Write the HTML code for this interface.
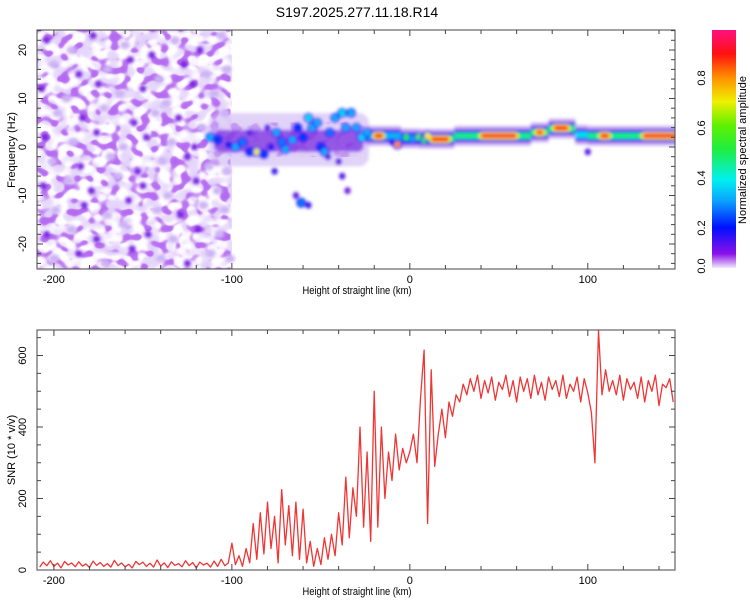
<!DOCTYPE html>
<html><head><meta charset="utf-8"><style>
body{margin:0;background:#fff;width:750px;height:600px;overflow:hidden}
svg{display:block;font-family:"Liberation Sans",sans-serif}
</style></head><body>
<svg id="chart" width="750" height="600" viewBox="0 0 750 600">
<defs>
<filter id="blur" x="-50%" y="-50%" width="200%" height="200%"><feGaussianBlur stdDeviation="1.5"/></filter>
<filter id="noiseLight" x="0" y="0" width="100%" height="100%">
<feTurbulence type="fractalNoise" baseFrequency="0.075 0.09" numOctaves="1" seed="4" result="t"/>
<feColorMatrix in="t" type="matrix" values="0 0 0 0 0.78  0 0 0 0 0.67  0 0 0 0 0.96  1.6 0 0 0 -0.35"/>
<feComponentTransfer><feFuncA type="table" tableValues="0 0 0.05 0.8 1 1"/></feComponentTransfer>
</filter>
<filter id="noiseDark" x="0" y="0" width="100%" height="100%">
<feTurbulence type="fractalNoise" baseFrequency="0.1 0.12" numOctaves="1" seed="11" result="t"/>
<feColorMatrix in="t" type="matrix" values="0 0 0 0 0.46  0 0 0 0 0.14  0 0 0 0 0.88  1.8 0 0 0 -0.55"/>
<feComponentTransfer><feFuncA type="table" tableValues="0 0 0.1 0.9 1 1"/></feComponentTransfer>
</filter>
<clipPath id="clipTop"><rect x="37" y="30" width="638" height="239"/></clipPath>
<clipPath id="clipBot"><rect x="37" y="330" width="638" height="240"/></clipPath>
<linearGradient id="cbar" x1="0" y1="1" x2="0" y2="0">
<stop offset="0" stop-color="#f2eafc"/><stop offset="0.06" stop-color="#8a10e8"/>
<stop offset="0.17" stop-color="#0010ff"/><stop offset="0.28" stop-color="#0aa0ff"/>
<stop offset="0.37" stop-color="#00f0f0"/><stop offset="0.5" stop-color="#20ee40"/>
<stop offset="0.6" stop-color="#60f000"/><stop offset="0.7" stop-color="#f0f000"/>
<stop offset="0.8" stop-color="#ff9000"/><stop offset="0.9" stop-color="#ff1010"/>
<stop offset="1" stop-color="#ff1080"/>
</linearGradient>
</defs>
<text x="357" y="17" font-size="14" text-anchor="middle">S197.2025.277.11.18.R14</text>
<g id="topPanel"></g>
<g id="botPanel"></g>
<g id="cbPanel"></g>
</svg>
<script>
// ---- data ----
const snrStart = -208, snrStep = 2;
const snrValues = [8,22,12,26,10,19,6,24,14,20,9,23,11,17,7,25,13,21,10,18,8,27,12,20,9,16,6,24,15,22,10,19,8,28,11,20,7,23,13,18,9,26,12,21,6,22,14,19,8,25,10,30,12,20,
75,15,40,10,60,20,130,30,160,45,190,60,150,20,225,70,180,40,190,30,170,
20,80,10,60,15,90,30,
100,40,160,70,260,90,230,150,400,120,330,80,500,
120,400,200,330,250,380,280,340,300,
330,380,300,480,615,130,560,290,
380,450,370,470,430,490,470,520,
490,535,500,545,480,530,495,540,475,525,505,545,485,530,470,540,500,535,480,545,490,525,475,540,505,530,485,545,480,520,500,540,470,535,495,440,300,670,490,560,500,530,490,545,475,535,505,525,480,540,470,530,500,545,460,520,510,535,470];
const xTicks = [-200,-100,0,100];
const freqTicks = [-20,-10,0,10,20];
const snrTicks = [0,200,400,600];
const cbTicks = [0.0,0.2,0.4,0.6,0.8];

const noiseX = [-204,-190,-178,-160,-145,-132,-118,-106,-200,-186,-170,-157,-141,-127,-114,-103,-207,-193,-175,-163,-150,-137,-122,-110,-198,-184,-172,-155,-143,-130,-117,-104,-205,-189,-176,-161,-148,-134,-121,-108,-201,-185,-168,-153,-139,-125,-113,-103,-206,-192,-179,-164,-150,-136,-120,-108,-199,-183,-170,-158,-142,-129,-116,-104,-204,-190,-176,-161,-147,-133,-119,-107,-200,-186,-171,-156,-140,-125,-112,-101];
const noiseF = [22,20,23,21,19,22,20,23,17,15,16,18,14,17,15,16,12,10,13,11,12,9,13,11,7,6,8,5,7,6,4,7,2,1,3,0,2,1,0,3,-3,-4,-2,-5,-3,-2,-4,-5,-8,-7,-9,-6,-8,-10,-7,-9,-13,-12,-14,-11,-13,-14,-12,-13,-18,-17,-19,-16,-18,-19,-17,-18,-23,-22,-24,-21,-23,-24,-22,-23];
const noiseA = [0.08,0.03,0.08,0.03,0.08,0.03,0.08,0.03,0.03,0.08,0.03,0.08,0.03,0.08,0.03,0.03,0.08,0.03,0.08,0.03,0.08,0.03,0.08,0.03,0.03,0.08,0.03,0.08,0.03,0.08,0.03,0.03,0.08,0.03,0.08,0.03,0.08,0.03,0.08,0.03,0.03,0.08,0.03,0.08,0.03,0.08,0.03,0.03,0.08,0.03,0.08,0.03,0.08,0.03,0.08,0.03,0.03,0.08,0.03,0.08,0.03,0.08,0.03,0.03,0.08,0.03,0.08,0.03,0.08,0.03,0.08,0.03,0.03,0.08,0.03,0.08,0.03,0.08,0.03,0.03];

const blobX = [-112,-108,-102,-98,-94,-90,-86,-82,-78,-75,-72,-70,-66,-63,-60,-57,-55,-52,-50,-48,-45,-42,-38,-36,-33,-30,-27,-24,-64,-61,-57,-76,-40,-38,-35,-80,-90,-46,-10,-7,-2,5,8,10,100];
const blobF = [2,1.5,0.5,0,1,-1,-1,-1.5,0,3,1,-0.5,1.5,4,2,6,4,5,0,-1,3,6,7,4,7,4,2,3,-10,-11.5,-12,-5,-3,-6,-9,4,3,-2,1,0.5,2,2,1.5,2.3,-1];
const blobA = [0.3,0.2,0.15,0.3,0.25,0.2,0.7,0.2,0.15,0.3,0.25,0.3,0.3,0.2,0.2,0.35,0.3,0.3,0.2,0.3,0.25,0.3,0.35,0.3,0.3,0.3,0.35,0.3,0.1,0.25,0.12,0.12,0.1,0.1,0.08,0.1,0.1,0.1,0.15,0.8,0.5,0.6,0.5,0.7,0.1];

const bandX0 = [-25,-5,5,25,68,78,93,100];
const bandX1 = [-5,5,25,68,78,93,100,150];
const bandF = [2.3,1.8,1.7,2.3,3,3.8,2.5,2.3];
const bandA = [0.3,0.3,0.45,0.45,0.45,0.45,0.35,0.45];
const coreX0 = [-20,12,40,71,81,107,131];
const coreX1 = [-15,22,60,75,89,112,150];
const coreF = [2.3,1.6,2.3,3,3.9,2.3,2.3];
const coreA = [0.9,0.9,0.92,0.85,0.9,0.9,0.92];

// ---- scales ----
const X0=37,X1=675,XMIN=-209.5,XMAX=149;
const xs = v => X0 + (v - XMIN) * (X1 - X0) / (XMAX - XMIN);
const yf = f => 147 - f * 4.85;
const ys = v => 570 - v * 0.3575;
const NS='http://www.w3.org/2000/svg';
function mk(tag, attrs, parent){const e=document.createElementNS(NS,tag);for(const k in attrs)e.setAttribute(k,attrs[k]);parent.appendChild(e);return e;}
function cmap(a){
  const st=[[0,[246,240,253]],[0.03,[205,180,244]],[0.08,[118,36,224]],[0.17,[0,16,255]],[0.28,[10,160,255]],[0.37,[0,240,240]],[0.5,[32,238,64]],[0.6,[96,240,0]],[0.7,[240,240,0]],[0.8,[255,144,0]],[0.9,[255,16,16]],[1,[255,16,128]]];
  for(let i=1;i<st.length;i++){if(a<=st[i][0]){const t=(a-st[i-1][0])/(st[i][0]-st[i-1][0]);const c=st[i-1][1].map((v,j)=>Math.round(v+(st[i][1][j]-v)*t));return 'rgb('+c.join(',')+')';}}
  return 'rgb(255,16,128)';
}

// ---- top panel ----
const topG=document.getElementById('topPanel');
const gTop=mk('g',{'clip-path':'url(#clipTop)'},topG);
const tex1=mk('rect',{x:37,y:30,width:xs(-100)-37,height:239,fill:'#fff',filter:'url(#noiseLight)'},gTop);


const tex2=mk('rect',{x:37,y:30,width:xs(-101)-37,height:239,fill:'#fff',filter:'url(#noiseDark)'},gTop);


const tex4=mk('rect',{x:xs(-110),y:yf(5),width:xs(-25)-xs(-110),height:yf(-2)-yf(5),fill:'#fff',filter:'url(#noiseDark)'},gTop);


const gb=mk('g',{filter:'url(#blur)'},gTop);


for(let i=0;i<noiseX.length;i++){
  const e=mk('ellipse',{cx:xs(noiseX[i]),cy:yf(noiseF[i]),rx:noiseA[i]>0.05?3.5:5,ry:noiseA[i]>0.05?3.5:4,fill:cmap(noiseA[i])},gb);
  
  
}
mk('rect',{x:xs(-113),y:yf(7),width:xs(-23)-xs(-113),height:yf(-4)-yf(7),fill:cmap(0.03),rx:10,opacity:0.6},gb);
mk('rect',{x:xs(-110),y:yf(3.5),width:xs(-26)-xs(-110),height:yf(-1)-yf(3.5),fill:cmap(0.08),rx:6,opacity:0.7},gb);
for(let i=0;i<bandX0.length;i++){
  const x=xs(bandX0[i]),w=xs(bandX1[i])-x;
  mk('rect',{x:x,y:yf(bandF[i]+2.0),width:w,height:yf(-2.0)-yf(2.0),fill:cmap(0.035)},gb);
  mk('rect',{x:x,y:yf(bandF[i]+1.3),width:w,height:yf(-1.3)-yf(1.3),fill:cmap(0.1)},gb);
  mk('rect',{x:x,y:yf(bandF[i]+0.95),width:w,height:yf(-0.95)-yf(0.95),fill:cmap(0.18)},gb);
  const e=mk('rect',{x:x,y:yf(bandF[i]+0.65),width:w,height:yf(-0.65)-yf(0.65),fill:cmap(bandA[i])},gb);
  
  
}
for(let i=0;i<blobX.length;i++){
  if(blobA[i]>0.15) mk('ellipse',{cx:xs(blobX[i]),cy:yf(blobF[i]),rx:5,ry:5,fill:cmap(0.15)},gb);
  const e=mk('ellipse',{cx:xs(blobX[i]),cy:yf(blobF[i]),rx:3.2,ry:3.5,fill:cmap(blobA[i])},gb);
  
  
}
for(let i=0;i<coreX0.length;i++){
  const x=xs(coreX0[i]),w=xs(coreX1[i])-x;
  mk('rect',{x:x-2,y:yf(coreF[i]+0.8),width:w+4,height:yf(-0.8)-yf(0.8),fill:cmap(0.7),rx:3},gb);
  const e=mk('rect',{x:x,y:yf(coreF[i]+0.45),width:w,height:yf(-0.45)-yf(0.45),fill:cmap(coreA[i]),rx:2},gb);
  
  
}

function drawFrame(parent,y0,y1,yticksMajor,yfun,yminorStep,ymin,ymax,labelY,yTitle,nameP){
  const f=mk('rect',{x:X0,y:y0,width:X1-X0,height:y1-y0,fill:'none',stroke:'#444','stroke-width':1},parent);
  
  
  for(let v=-200;v<=140;v+=20){
    const x=xs(v),L=(v%100===0)?6:4;
    mk('line',{x1:x,x2:x,y1:y1,y2:y1-L,stroke:'#444'},parent);
    mk('line',{x1:x,x2:x,y1:y0,y2:y0+L,stroke:'#444'},parent);
  }
  for(let v=Math.ceil(ymin/yminorStep)*yminorStep;v<=ymax;v+=yminorStep){
    const y=yfun(v),L=yticksMajor.includes(v)?6:4;
    mk('line',{x1:X0,x2:X0+L,y1:y,y2:y,stroke:'#444'},parent);
    mk('line',{x1:X1,x2:X1-L,y1:y,y2:y,stroke:'#444'},parent);
  }
  xTicks.forEach(v=>{
    const t=mk('text',{x:xs(v),y:y1+14,'font-size':11,'text-anchor':'middle'},parent);t.textContent=String(v);
    
    
  });
  yticksMajor.forEach(v=>{
    const y=yfun(v);
    const t=mk('text',{x:26,y:y,'font-size':11,'text-anchor':'middle',transform:'rotate(-90 26 '+y+')'},parent);t.textContent=String(v);
    
    
  });
  const xl=mk('text',{x:0,y:0,'font-size':11,'text-anchor':'middle',transform:'translate(357,'+(y1+25)+') scale(0.85,1)'},parent);
  xl.textContent='Height of straight line (km)';
  
  
  const yl=mk('text',{x:0,y:0,'font-size':11,'text-anchor':'middle',transform:'translate(15,'+labelY+') rotate(-90)'},parent);
  yl.textContent=yTitle;
  
  
}
drawFrame(topG,30,269,freqTicks,yf,2,-24,24,150,'Frequency (Hz)','spectrogram');

// ---- bottom panel ----
const botG=document.getElementById('botPanel');
const gl=mk('g',{'clip-path':'url(#clipBot)'},botG);
const pts=snrValues.map((v,i)=>xs(snrStart+i*snrStep).toFixed(1)+','+ys(v).toFixed(1)).join(' ');
const pl=mk('polyline',{points:pts,fill:'none',stroke:'#f03535','stroke-width':1.3,'stroke-linejoin':'round'},gl);


drawFrame(botG,330,570,snrTicks,ys,50,0,670,450,'SNR (10 * v/v)','snr');

// ---- colorbar ----
const cbG=document.getElementById('cbPanel');
const cbv = a => 278 - a * 250;
const cbr=mk('rect',{x:712,y:30,width:24,height:238,fill:'url(#cbar)'},cbG);


cbTicks.forEach(v=>{
  const y=Math.min(cbv(v),266);
  const t=mk('text',{x:705,y:y,'font-size':11,'text-anchor':'middle',transform:'rotate(-90 705 '+y+')'},cbG);
  t.textContent=v.toFixed(1);
  
  
});
const ct=mk('text',{x:0,y:0,'font-size':11,'text-anchor':'middle',transform:'translate(746,150) rotate(-90)'},cbG);
ct.textContent='Normalized spectral amplitude';


</script>
</body></html>
